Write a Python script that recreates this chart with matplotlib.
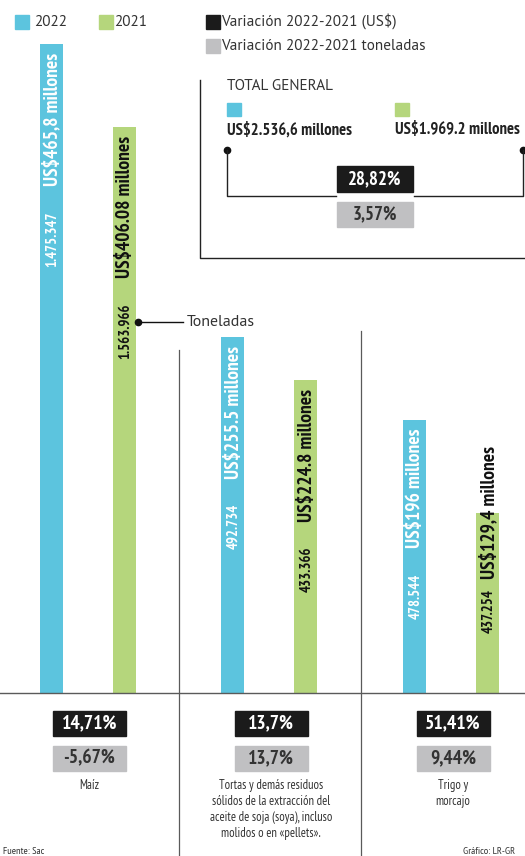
import matplotlib
matplotlib.use('Agg')
import matplotlib.pyplot as plt
from matplotlib.patches import Rectangle

# ---------------- data ----------------
categories = ['Maíz',
              'Tortas y demás residuos\nsólidos de la extracción del\naceite de soja (soya), incluso\nmolidos o en «pellets».',
              'Trigo y\nmorcajo']
usd_2022 = [465.8, 255.5, 196.0]
usd_2021 = [406.08, 224.8, 129.4]
usd_2022_labels = ['US$465,8 millones', 'US$255.5 millones', 'US$196 millones']
usd_2021_labels = ['US$406.08 millones', 'US$224.8 millones', 'US$129,4 millones']
ton_2022_labels = ['1.475.347', '492.734', '478.544']
ton_2021_labels = ['1.563.966', '433.366', '437.254']
var_usd = ['14,71%', '13,7%', '51,41%']
var_ton = ['-5,67%', '13,7%', '9,44%']
total_2022 = 'US$2.536,6 millones'
total_2021 = 'US$1.969.2 millones'
total_var_usd = '28,82%'
total_var_ton = '3,57%'
legend_labels = ['2022', '2021', 'Variación 2022-2021 (US$)', 'Variación 2022-2021 toneladas']

# ---------------- style ----------------
COND = ['PT Sans Narrow', 'Liberation Sans Narrow', 'DejaVu Sans']
REG = ['PT Sans', 'Source Sans 3', 'Lato', 'DejaVu Sans']
CYAN = '#5cc4de'
GREEN = '#b5d67c'
BLACK = '#1b1b1b'
GRAY = '#c0c0c2'
LINE = '#5a5a5a'
TXT = '#333333'

W, H = 525, 856
fig = plt.figure(figsize=(W / 100, H / 100), dpi=100)
fig.patch.set_facecolor('white')

BASE = 693          # baseline, pixels from top
PX_PER_M = 1.393    # pixels per million US$

bx = fig.add_axes([0, (H - BASE) / H, 1, BASE / H], zorder=1)
bx.set_xlim(0, W)
bx.set_ylim(0, BASE / PX_PER_M)
bx.axis('off')

ov = fig.add_axes([0, 0, 1, 1], zorder=2)
ov.set_xlim(0, W)
ov.set_ylim(H, 0)
ov.axis('off')
ov.patch.set_alpha(0)

centers = [87.5 + 181.75 * i for i in range(len(categories))]
off = 36.5
bw = 23

x22 = [c - off for c in centers]
x21 = [c + off for c in centers]
bx.bar(x22, usd_2022, width=bw, color=CYAN, zorder=1)
bx.bar(x21, usd_2021, width=bw, color=GREEN, zorder=1)

DFS = 14
TFS = 10.5
# bar labels
for xs, vals, dl, tl, col in [(x22, usd_2022, usd_2022_labels, ton_2022_labels, 'white'),
                              (x21, usd_2021, usd_2021_labels, ton_2021_labels, '#111111')]:
    for x, v, d, t in zip(xs, vals, dl, tl):
        if v * PX_PER_M > 220:
            td = bx.annotate(d, xy=(x, v), xytext=(1, -9), textcoords='offset pixels',
                             rotation=90, ha='center', va='top', color=col,
                             fontsize=DFS, fontweight='bold', family=COND, zorder=3)
            bx.annotate(t, xy=(0.5, 0), xycoords=td, xytext=(0, -25), textcoords='offset pixels',
                        rotation=90, ha='center', va='top', color=col,
                        fontsize=TFS, fontweight='bold', family=COND, zorder=3)
        else:
            tt = bx.annotate(t, xy=(x, 0), xytext=(1, 60), textcoords='offset pixels',
                             rotation=90, ha='center', va='bottom', color=col,
                             fontsize=TFS, fontweight='bold', family=COND, zorder=3)
            bx.annotate(d, xy=(0.5, 1), xycoords=tt, xytext=(0, 10), textcoords='offset pixels',
                        rotation=90, ha='center', va='bottom', color=col,
                        fontsize=DFS, fontweight='bold', family=COND, zorder=3)

# baseline and dividers
ov.plot([0, W], [BASE, BASE], color=LINE, lw=1)
ov.plot([179, 179], [350, H], color=LINE, lw=0.9)
ov.plot([361, 361], [331, H], color=LINE, lw=0.9)

# Toneladas pointer
ov.plot([x21[0] + bw / 2 + 2], [322], 'o', color='#111111', ms=4.5)
ov.plot([x21[0] + bw / 2 + 2, 183], [322, 322], color='#111111', lw=1)
ov.text(187, 322, 'Toneladas', ha='left', va='center', fontsize=11.5, family=REG, color=TXT)

# legend
sq = 14
LFS = 11
ov.add_patch(Rectangle((15, 15), sq, sq, color=CYAN))
ov.text(34, 21.5, legend_labels[0], ha='left', va='center', fontsize=LFS, family=REG, color=TXT)
ov.add_patch(Rectangle((99, 15), sq, sq, color=GREEN))
ov.text(114, 21.5, legend_labels[1], ha='left', va='center', fontsize=LFS, family=REG, color=TXT)
ov.add_patch(Rectangle((206, 15), sq, sq, color=BLACK))
ov.text(221, 21.5, legend_labels[2], ha='left', va='center', fontsize=LFS, family=REG, color=TXT)
ov.add_patch(Rectangle((206, 39), sq, sq, color=GRAY))
ov.text(221, 45.5, legend_labels[3], ha='left', va='center', fontsize=LFS, family=REG, color=TXT)

# total general box
ov.plot([200, 200, W], [80, 258, 258], color='#222222', lw=1)
ov.text(227, 86, 'TOTAL GENERAL', ha='left', va='center', fontsize=11, family=REG,
        color=TXT)
ov.add_patch(Rectangle((227, 103), 14, 13, color=CYAN))
ov.add_patch(Rectangle((395, 103), 14, 13, color=GREEN))
ov.text(227, 130, total_2022, ha='left', va='center', fontsize=12, fontweight='bold',
        family=COND, color='#222222')
ov.text(395, 130, total_2021, ha='left', va='center', fontsize=12, fontweight='bold',
        family=COND, color='#222222')
ov.plot([227], [150], 'o', color='#111111', ms=4.5)
ov.plot([523], [150], 'o', color='#111111', ms=4.5)
ov.plot([227, 227, 336], [150, 196, 196], color='#222222', lw=1)
ov.plot([414, 523, 523], [196, 196, 150], color='#222222', lw=1)
ov.add_patch(Rectangle((337, 166), 76, 26, color=BLACK))
ov.text(375, 179, total_var_usd, ha='center', va='center', fontsize=13.5, fontweight='bold',
        family=COND, color='white')
ov.add_patch(Rectangle((337, 202), 76, 25, color=GRAY))
ov.text(375, 214.5, total_var_ton, ha='center', va='center', fontsize=13.5, fontweight='bold',
        family=COND, color=TXT)

# bottom variation boxes and category labels
for c, vu, vt, cat in zip(centers, var_usd, var_ton, categories):
    bxl = c + 2 - 36.5
    ov.add_patch(Rectangle((bxl, 711), 73, 25, color=BLACK))
    ov.text(c + 2, 723.5, vu, ha='center', va='center', fontsize=14, fontweight='bold',
            family=COND, color='white')
    ov.add_patch(Rectangle((bxl, 746), 73, 25, color=GRAY))
    ov.text(c + 2, 758.5, vt, ha='center', va='center', fontsize=14, fontweight='bold',
            family=COND, color=TXT)
    ov.text(c + 2, 779, cat, ha='center', va='top', fontsize=9, family=COND,
            color=TXT, linespacing=1.3)

ov.text(3, 852, 'Fuente: Sac', ha='left', va='center', fontsize=7.5, family=COND, color=TXT)
ov.text(463, 852, 'Gráfico: LR-GR', ha='left', va='center', fontsize=7.5, family=COND, color=TXT)

fig.savefig('out.png', dpi=100, facecolor='white')
